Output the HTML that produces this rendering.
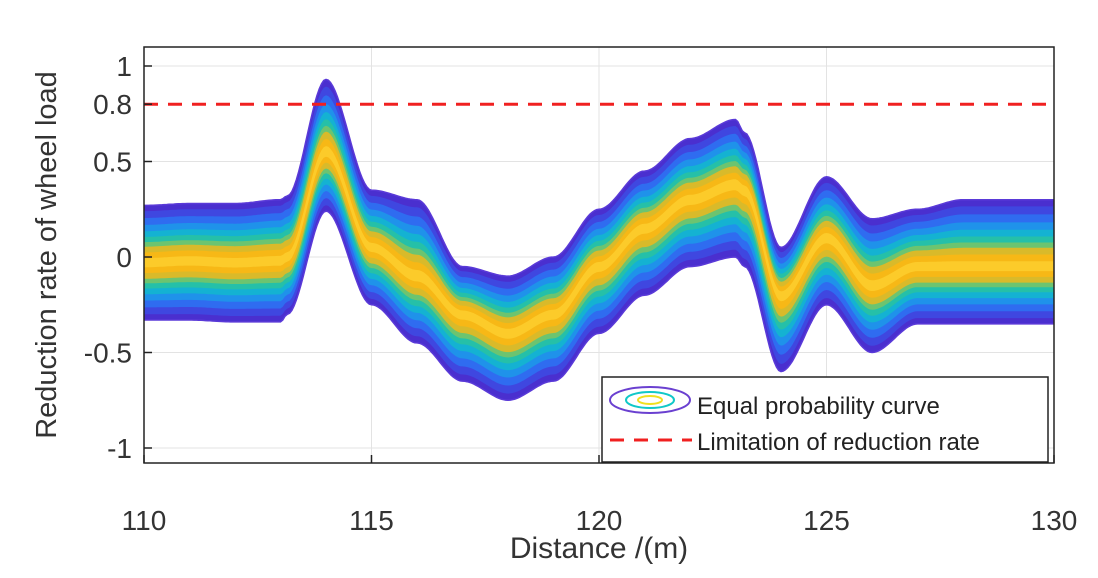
<!DOCTYPE html>
<html><head><meta charset="utf-8"><style>
body{margin:0;background:#fff;}
svg{display:block;font-family:"Liberation Sans",sans-serif;}
</style></head><body>
<svg id="chart" width="1098" height="578">
<defs><clipPath id="pc"><rect x="144" y="47" width="910" height="416"/></clipPath></defs>
<rect x="144" y="47" width="910" height="416" fill="#fff"/>
<g id="grid"></g>
<g id="bands" clip-path="url(#pc)"></g>
<g id="limit"></g>
<rect x="144" y="47" width="910" height="416" fill="none" stroke="#222" stroke-width="1.5"/>
<g id="ticks"></g>
<text x="599" y="558" font-size="30" fill="#333" text-anchor="middle">Distance /(m)</text>
<text transform="translate(56,255) rotate(-90)" font-size="29" fill="#333" text-anchor="middle">Reduction rate of  wheel load</text>
<g>
<rect x="602" y="377" width="446" height="85" fill="#fff" stroke="#222" stroke-width="1.5"/>
<g>
<ellipse cx="650" cy="400" rx="40" ry="13" fill="none" stroke="#6a40d0" stroke-width="2"/>
<ellipse cx="650" cy="400" rx="24" ry="8" fill="none" stroke="#10c8c8" stroke-width="2"/>
<ellipse cx="650" cy="400" rx="12" ry="4" fill="none" stroke="#f0e020" stroke-width="2"/>
<text x="697" y="414" font-size="24" fill="#222">Equal probability curve</text>
</g>
<g>
<line x1="610" y1="440" x2="692" y2="440" stroke="#f02020" stroke-width="3" stroke-dasharray="14,10"/>
<text x="697" y="450" font-size="24" fill="#222">Limitation of reduction rate</text>
</g>
</g>
</svg>
<script>
const distances=[110,111,112,113,113.15,114,115,116,117,118,119,120,121,122,123,123.2,124,125,126,127,128,129,130];
const centerValues=[-0.03,-0.02,-0.03,-0.02,0.0,0.55,0.05,-0.1,-0.3,-0.4,-0.3,-0.05,0.15,0.3,0.38,0.35,-0.2,0.1,-0.15,-0.05,-0.05,-0.05,-0.05];
const upperValues=[0.27,0.28,0.28,0.3,0.32,0.93,0.35,0.3,-0.05,-0.1,0.0,0.25,0.45,0.62,0.72,0.65,0.05,0.42,0.2,0.25,0.3,0.3,0.3];
const lowerValues=[-0.33,-0.33,-0.34,-0.34,-0.3,0.24,-0.25,-0.45,-0.65,-0.75,-0.65,-0.4,-0.2,-0.05,0.0,-0.05,-0.6,-0.25,-0.5,-0.35,-0.35,-0.35,-0.35];
const xTicks=[110,115,120,125,130];
const yTicks=[-1,-0.5,0,0.5,0.8,1];
const yTickLabels=["-1","-0.5","0","0.5","0.8","1"];
const limitValue=0.8;
const NS="http://www.w3.org/2000/svg";
const X=v=>144+(v-110)/20*910;
const Y=v=>257-v*191;
function mk(tag,attrs,parent){const e=document.createElementNS(NS,tag);for(const k in attrs)e.setAttribute(k,attrs[k]);parent.appendChild(e);return e;}
const grid=document.getElementById('grid'),ticks=document.getElementById('ticks');
xTicks.forEach(t=>{
 const g=mk('line',{x1:X(t),x2:X(t),y1:47,y2:463,stroke:'#e3e3e3','stroke-width':1},grid);
 
 
 mk('line',{x1:X(t),x2:X(t),y1:463,y2:455,stroke:'#222','stroke-width':1.5},ticks);
 const tx=mk('text',{x:X(t),y:530,'font-size':28,fill:'#333','text-anchor':'middle'},ticks);
 tx.textContent=t;
 
 
});
yTicks.forEach((t,i)=>{
 if(t!==0.8){const g=mk('line',{x1:144,x2:1054,y1:Y(t),y2:Y(t),stroke:'#e3e3e3','stroke-width':1},grid);
 
 }
 mk('line',{x1:144,x2:152,y1:Y(t),y2:Y(t),stroke:'#222','stroke-width':1.5},ticks);
 const tx=mk('text',{x:132,y:Y(t)+10,'font-size':28,fill:'#333','text-anchor':'end'},ticks);
 tx.textContent=yTickLabels[i];
 
 
});
function interp(arr,x){
 let i=0;while(i<distances.length-2&&x>distances[i+1])i++;
 const x0=distances[i],x1=distances[i+1];let t=(x-x0)/(x1-x0);
 t=Math.max(0,Math.min(1,t));const s=t*t*(3-2*t);
 return arr[i]+(arr[i+1]-arr[i])*s;
}
const bands=document.getElementById('bands');
const layers=[[1,'#4a2fcf'],[0.9,'#3f47e0'],[0.78,'#2f6cf0'],[0.66,'#1f92ea'],[0.55,'#14b2d2'],[0.45,'#25c0a8'],[0.36,'#6cc470'],[0.28,'#d9ba2a'],[0.18,'#f7b816'],[0.08,'#fccb2a']];
const N=400;
layers.forEach(([f,c])=>{
 const top=[],bot=[];
 for(let k=0;k<=N;k++){
  const d=110+20*k/N,cv=interp(centerValues,d);
  top.push(X(d).toFixed(1)+','+Y(cv+(interp(upperValues,d)-cv)*f).toFixed(1));
  bot.push(X(d).toFixed(1)+','+Y(cv+(interp(lowerValues,d)-cv)*f).toFixed(1));
 }
 const p=mk('polygon',{points:top.concat(bot.reverse()).join(' '),fill:c,stroke:f===1?'#5a3ad8':'none','stroke-width':1.5},bands);
 
 
});
const lim=mk('line',{x1:144,x2:1054,y1:Y(limitValue),y2:Y(limitValue),stroke:'#f02020','stroke-width':3,'stroke-dasharray':'14,10'},document.getElementById('limit'));


</script>
</body></html>
